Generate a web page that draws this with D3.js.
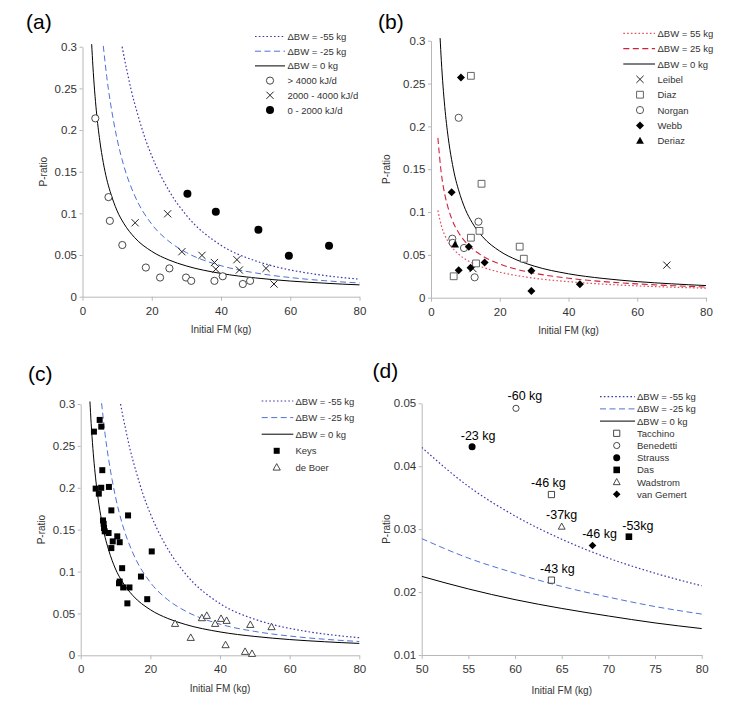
<!DOCTYPE html>
<html><head><meta charset="utf-8">
<script src="https://cdn.jsdelivr.net/npm/d3@7"></script>
<style>body{margin:0;background:#fff}svg{display:block}text{font-family:"Liberation Sans",Arial,sans-serif}</style>
</head><body><svg id="chart" width="738" height="704"></svg>
<script>
// ---------- model curves [Initial FM (kg), P-ratio] ----------
const curveBW0 = [[2.65,0.303],[3,0.277],[3.5,0.247],[4,0.223],[5,0.187],[6,0.161],[7,0.141],[8,0.126],[10,0.103],[12,0.0875],[15,0.0712],[20,0.0544],[25,0.044],[30,0.0369],[40,0.0279],[50,0.0225],[55,0.0205],[60,0.0188],[65,0.0174],[70,0.0162],[75,0.0151],[80,0.0142]];
const curveBWm25 = [[6,0.301],[6.5,0.282],[7,0.264],[8,0.2345],[9,0.21],[10,0.189],[12,0.156],[15,0.122],[20,0.087],[25,0.0663],[30,0.053],[40,0.0372],[50,0.0285],[55,0.0254],[60,0.023],[65,0.0209],[70,0.0192],[75,0.0177],[80,0.0165]];
const curveBWm55 = [[11.45,0.300],[12,0.288],[13,0.268],[14,0.249],[16,0.218],[18,0.191],[20,0.169],[25,0.127],[30,0.0977],[40,0.0617],[50,0.043],[55,0.0368],[60,0.0321],[65,0.0284],[70,0.0254],[75,0.023],[80,0.021]];
const curveBWp25 = [[2,0.1866],[3,0.1452],[4,0.1208],[5,0.1046],[6,0.0924],[8,0.0761],[10,0.0652],[12,0.0573],[15,0.0487],[20,0.0393],[25,0.0331],[30,0.0286],[40,0.0227],[50,0.0188],[60,0.0161],[70,0.0141],[80,0.0125]];
const curveBWp55 = [[2,0.1019],[3,0.0842],[4,0.073],[5,0.0653],[6,0.0594],[8,0.0509],[10,0.045],[12,0.0406],[15,0.0356],[20,0.0298],[25,0.0258],[30,0.0228],[40,0.0187],[50,0.0159],[60,0.0138],[70,0.0123],[80,0.0111]];

// ---------- panel (a) ----------
const aHigh = [[3.7,0.214],[7.5,0.1195],[7.9,0.091],[11.5,0.062],[18.3,0.035],[22.4,0.023],[25.1,0.034],[29.9,0.023],[31.4,0.019],[38.1,0.019],[40.5,0.0245],[46.3,0.0152],[48.4,0.019]];
const aMid = [[15.2,0.0887],[24.6,0.0995],[28.7,0.054],[34.5,0.0496],[38.1,0.041],[38.5,0.033],[44.6,0.0444],[45.3,0.032],[53.0,0.034],[55.3,0.0152]];
const aLow = [[30.3,0.1235],[38.5,0.102],[50.8,0.0803],[59.6,0.049],[71.2,0.0612]];

// ---------- panel (b) ----------
const bLeibel = [[68.6,0.038],[12.2,0.034]];
const bDiaz = [[11.6,0.259],[14.7,0.133],[11.6,0.070],[14.1,0.078],[13.1,0.040],[6.6,0.025],[25.8,0.0596],[27.0,0.0455]];
const bNorgan = [[8.05,0.210],[13.8,0.0887],[6.2,0.0689],[6.3,0.064],[9.6,0.058],[12.7,0.0238]];
const bWebb = [[8.7,0.257],[6.0,0.123],[11.0,0.0596],[8.05,0.032],[11.5,0.035],[15.6,0.041],[29.2,0.0316],[29.2,0.0078],[43.3,0.0156]];
const bDeriaz = [[7.0,0.062]];

// ---------- panel (c) ----------
const cKeys = [[5.45,0.281],[5.9,0.273],[3.8,0.267],[6.2,0.221],[4.3,0.199],[5.9,0.200],[5.2,0.193],[8.1,0.201],[8.8,0.173],[13.6,0.167],[6.4,0.161],[6.6,0.157],[6.7,0.152],[6.9,0.148],[8.0,0.146],[10.5,0.142],[11.2,0.135],[9.2,0.136],[8.8,0.128],[20.4,0.124],[11.9,0.104],[17.3,0.094],[11.2,0.088],[11.0,0.086],[12.2,0.081],[14.0,0.081],[19.1,0.067],[13.4,0.062]];
const cDeBoer = [[27.1,0.0377],[31.6,0.021],[34.8,0.0445],[36.2,0.0473],[38.6,0.0377],[40.3,0.0437],[41.9,0.0413],[41.6,0.0123],[47.2,0.0043],[49.2,0.0019],[48.7,0.0365],[54.8,0.0338]];

// ---------- panel (d) ----------
const dTacchino = [[63.9,0.0355],[63.9,0.0219]];
const dTacchinoLabels = ["-46 kg","-43 kg"];
const dBenedetti = [[60.1,0.0492]];
const dBenedettiLabels = ["-60 kg"];
const dStrauss = [[55.4,0.0431]];
const dStraussLabels = ["-23 kg"];
const dDas = [[72.2,0.0288]];
const dDasLabels = ["-53kg"];
const dWadstrom = [[65.0,0.0304]];
const dWadstromLabels = ["-37kg"];
const dVanGemert = [[68.3,0.0274]];
const dVanGemertLabels = ["-46 kg"];

// ---------- ticks ----------
const xTicksFull = [0,20,40,60,80];
const yTicksFull = [0,0.05,0.1,0.15,0.2,0.25,0.3];
const xTicksD = [50,55,60,65,70,75,80];
const yTicksD = [0.01,0.02,0.03,0.04,0.05];
const xTitle = "Initial FM (kg)";
const yTitle = "P-ratio";

// ---------- styles ----------
const BLUE_DOT = "#3a3aae", BLUE_DASH = "#4f72d6", RED_DOT = "#e4505c", RED_DASH = "#d0213a";
const styles = {
  m55: {stroke: BLUE_DOT, dash: "1.6,2.2", w: 1.2},
  m25: {stroke: BLUE_DASH, dash: "6,3.5", w: 1},
  p55: {stroke: RED_DOT, dash: "1.6,2.2", w: 1.2},
  p25: {stroke: RED_DASH, dash: "6,3.5", w: 1.1},
  zero: {stroke: "#000", dash: null, w: 1}
};

const svg = d3.select("#chart");
svg.append("rect").attr("width",738).attr("height",704).attr("fill","#fff");

function markerPath(type, s) {
  switch (type) {
    case "circle": return `M${s},0A${s},${s},0,1,1,${-s},0A${s},${s},0,1,1,${s},0Z`;
    case "square": return `M${-s},${-s}H${s}V${s}H${-s}Z`;
    case "diamond": return `M0,${-s}L${s},0L0,${s}L${-s},0Z`;
    case "triangle": return `M0,${-s*1.05}L${s},${s*0.75}L${-s},${s*0.75}Z`;
    case "x": return `M${-s},${-s}L${s},${s}M${-s},${s}L${s},${-s}`;
  }
}
function drawMarker(g, m, x, y) {
  const p = g.append("path").attr("d", markerPath(m.shape, m.size)).attr("transform", `translate(${x},${y})`);
  if (m.shape === "x") p.attr("fill","none").attr("stroke", m.stroke || "#222").attr("stroke-width", 1);
  else if (m.filled) p.attr("fill", "#000").attr("stroke", "none");
  else p.attr("fill", "#fff").attr("stroke", m.stroke || "#333").attr("stroke-width", 0.9);
  return p;
}

function makePanel(cfg) {
  const g = svg.append("g");
  const x = d3.scaleLinear().domain(cfg.xDomain).range([cfg.left, cfg.right]);
  const y = d3.scaleLinear().domain(cfg.yDomain).range([cfg.bottom, cfg.top]);
  const xa = g.append("g").attr("transform", `translate(0,${cfg.bottom})`)
    .call(d3.axisBottom(x).tickValues(cfg.xTicks).tickFormat(d => String(d)).tickSize(4).tickSizeOuter(0).tickPadding(6));
  const ya = g.append("g").attr("transform", `translate(${cfg.left},0)`)
    .call(d3.axisLeft(y).tickValues(cfg.yTicks).tickFormat(d => String(d)).tickSize(3).tickSizeOuter(0).tickPadding(2.5));
  [xa, ya].forEach(a => {
    a.select(".domain").attr("stroke", "#b8b8b8");
    a.selectAll(".tick line").attr("stroke", "#b8b8b8");
    a.selectAll(".tick text").attr("fill", "#333").style("font-size", "11.5px").style("font-family", '"Liberation Sans",Arial,sans-serif');
  });
  g.append("text").attr("x", (cfg.left + cfg.right) / 2).attr("y", cfg.xTitleY).attr("text-anchor", "middle")
    .attr("dominant-baseline", "central").style("font-size", "10px").attr("fill", "#333").text(xTitle);
  g.append("text").attr("transform", `translate(${cfg.yTitleX},${(cfg.top + cfg.bottom) / 2}) rotate(-90)`)
    .attr("text-anchor", "middle").attr("dominant-baseline", "central").style("font-size", "10px").attr("fill", "#333").text(yTitle);
  g.append("text").attr("x", cfg.labelX).attr("y", cfg.labelY).style("font-size", "21px").attr("fill", "#000").text(cfg.label);

  const clipId = "clip" + cfg.label.replace(/[()]/g, "");
  svg.append("clipPath").attr("id", clipId).append("rect")
    .attr("x", cfg.left).attr("y", cfg.top - 6).attr("width", cfg.right - cfg.left + 1).attr("height", cfg.bottom - cfg.top + 6);
  const line = d3.line().x(d => x(d[0])).y(d => y(d[1])).curve(d3.curveMonotoneX);
  cfg.curves.forEach(c => {
    const st = styles[c.style];
    const data = c.data.filter(d => d[0] >= cfg.xDomain[0] && d[0] <= cfg.xDomain[1]);
    g.append("path").attr("d", line(data)).attr("fill", "none").attr("stroke", st.stroke)
      .attr("stroke-width", st.w).attr("stroke-dasharray", st.dash).attr("clip-path", `url(#${clipId})`);
  });
  cfg.series.forEach(s => {
    s.data.forEach((d, i) => {
      drawMarker(g, s.marker, x(d[0]), y(d[1]));
      if (s.labels) {
        const nud = s.nudge[i];
        g.append("text").attr("x", x(d[0]) + nud[0]).attr("y", y(d[1]) + nud[1])
          .attr("text-anchor", "middle").attr("dominant-baseline", "central")
          .style("font-size", "12.5px").attr("fill", "#000").text(s.labels[i]);
      }
    });
  });
  const L = cfg.legend;
  L.items.forEach((it, i) => {
    const yy = L.y0 + i * L.step;
    if (it.style) {
      const st = styles[it.style];
      g.append("line").attr("x1", L.lineX0).attr("x2", L.lineX1).attr("y1", yy).attr("y2", yy)
        .attr("stroke", st.stroke).attr("stroke-width", st.w).attr("stroke-dasharray", st.dash);
    } else {
      drawMarker(g, it.marker, L.markerX, yy);
    }
    g.append("text").attr("x", L.textX).attr("y", yy).attr("dominant-baseline", "central")
      .style("font-size", "9.5px").attr("fill", "#333").text(it.text);
  });
}

const mk = {
  openCircle: {shape: "circle", size: 3.6},
  filledCircle: {shape: "circle", size: 4, filled: true},
  xMark: {shape: "x", size: 3.6},
  openSquare: {shape: "square", size: 3.4, stroke: "#555"},
  openCircleB: {shape: "circle", size: 3.6, stroke: "#444"},
  diamond: {shape: "diamond", size: 4, filled: true},
  filledTri: {shape: "triangle", size: 3.9, filled: true},
  filledSquare: {shape: "square", size: 3, filled: true},
  openTri: {shape: "triangle", size: 3.6},
  dSquare: {shape: "square", size: 3.1},
  dCircle: {shape: "circle", size: 3.1},
  dFCircle: {shape: "circle", size: 3.5, filled: true},
  dFSquare: {shape: "square", size: 3.3, filled: true},
  dTri: {shape: "triangle", size: 3.4},
  dDiamond: {shape: "diamond", size: 3.8, filled: true}
};

const lossLegend = [
  {style: "m55", text: "\u0394BW = -55 kg"},
  {style: "m25", text: "\u0394BW = -25 kg"},
  {style: "zero", text: "\u0394BW = 0 kg"}
];
const lossCurves = [{style: "m55", data: curveBWm55}, {style: "m25", data: curveBWm25}, {style: "zero", data: curveBW0}];

makePanel({
  label: "(a)", labelX: 26, labelY: 29,
  left: 82.5, right: 359.5, top: 46.7, bottom: 296.7,
  xDomain: [0, 80], yDomain: [0, 0.3], xTicks: xTicksFull, yTicks: yTicksFull,
  xTitleY: 329, yTitleX: 43,
  curves: lossCurves,
  series: [
    {data: aHigh, marker: mk.openCircle},
    {data: aMid, marker: mk.xMark},
    {data: aLow, marker: mk.filledCircle}
  ],
  legend: {lineX0: 255, lineX1: 285, textX: 287.5, markerX: 270, y0: 36.5, step: 14.7,
    items: lossLegend.concat([
      {marker: mk.openCircle, text: "> 4000 kJ/d"},
      {marker: mk.xMark, text: "2000 - 4000 kJ/d"},
      {marker: mk.filledCircle, text: "0 - 2000 kJ/d"}
    ])}
});

makePanel({
  label: "(b)", labelX: 378, labelY: 29,
  left: 431, right: 706, top: 40.7, bottom: 297.7,
  xDomain: [0, 80], yDomain: [0, 0.3], xTicks: xTicksFull, yTicks: yTicksFull,
  xTitleY: 330, yTitleX: 386.7,
  curves: [{style: "p55", data: curveBWp55}, {style: "p25", data: curveBWp25}, {style: "zero", data: curveBW0}],
  series: [
    {data: bLeibel, marker: mk.xMark},
    {data: bDiaz, marker: mk.openSquare},
    {data: bNorgan, marker: mk.openCircleB},
    {data: bWebb, marker: mk.diamond},
    {data: bDeriaz, marker: mk.filledTri}
  ],
  legend: {lineX0: 623.3, lineX1: 655, textX: 657.5, markerX: 640, y0: 33.3, step: 15.35,
    items: [
      {style: "p55", text: "\u0394BW = 55 kg"},
      {style: "p25", text: "\u0394BW = 25 kg"},
      {style: "zero", text: "\u0394BW = 0 kg"},
      {marker: mk.xMark, text: "Leibel"},
      {marker: mk.openSquare, text: "Diaz"},
      {marker: mk.openCircleB, text: "Norgan"},
      {marker: mk.diamond, text: "Webb"},
      {marker: mk.filledTri, text: "Deriaz"}
    ]}
});

makePanel({
  label: "(c)", labelX: 28, labelY: 380.5,
  left: 80.7, right: 359.3, top: 404, bottom: 655.3,
  xDomain: [0, 80], yDomain: [0, 0.3], xTicks: xTicksFull, yTicks: yTicksFull,
  xTitleY: 688, yTitleX: 41.7,
  curves: lossCurves,
  series: [
    {data: cKeys, marker: mk.filledSquare},
    {data: cDeBoer, marker: mk.openTri}
  ],
  legend: {lineX0: 261.7, lineX1: 293.3, textX: 295.5, markerX: 276.7, y0: 401, step: 16.6,
    items: lossLegend.concat([
      {marker: mk.filledSquare, text: "Keys"},
      {marker: mk.openTri, text: "de Boer"}
    ])}
});

makePanel({
  label: "(d)", labelX: 372.5, labelY: 378,
  left: 421.7, right: 701.7, top: 403.3, bottom: 655,
  xDomain: [50, 80], yDomain: [0.01, 0.05], xTicks: xTicksD, yTicks: yTicksD,
  xTitleY: 690, yTitleX: 386.7,
  curves: lossCurves,
  series: [
    {data: dTacchino, marker: mk.dSquare, labels: dTacchinoLabels, nudge: [[-3,-11.6],[6,-11]]},
    {data: dBenedetti, marker: mk.dCircle, labels: dBenedettiLabels, nudge: [[9,-12]]},
    {data: dStrauss, marker: mk.dFCircle, labels: dStraussLabels, nudge: [[6,-11]]},
    {data: dDas, marker: mk.dFSquare, labels: dDasLabels, nudge: [[9,-11]]},
    {data: dWadstrom, marker: mk.dTri, labels: dWadstromLabels, nudge: [[0,-12]]},
    {data: dVanGemert, marker: mk.dDiamond, labels: dVanGemertLabels, nudge: [[7,-12]]}
  ],
  legend: {lineX0: 600, lineX1: 635, textX: 637, markerX: 616.7, y0: 396.7, step: 12.2,
    items: lossLegend.concat([
      {marker: mk.dSquare, text: "Tacchino"},
      {marker: mk.dCircle, text: "Benedetti"},
      {marker: mk.dFCircle, text: "Strauss"},
      {marker: mk.dFSquare, text: "Das"},
      {marker: mk.dTri, text: "Wadstrom"},
      {marker: mk.dDiamond, text: "van Gemert"}
    ])}
});
</script></body></html>
